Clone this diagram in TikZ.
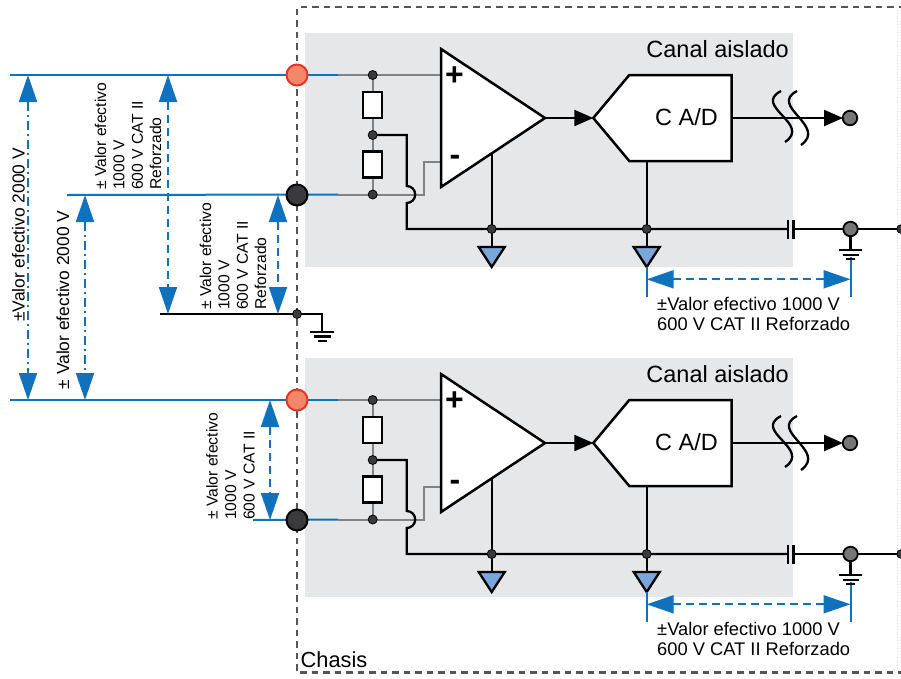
\documentclass[tikz,border=0pt]{standalone}
\usepackage{fontspec}
\setmainfont{Liberation Sans}
\usetikzlibrary{arrows.meta}
\definecolor{dimblue}{RGB}{16,114,189}
\definecolor{boxgray}{RGB}{230,231,233}
\definecolor{wiregray}{RGB}{130,130,130}
\definecolor{redfill}{RGB}{242,135,105}
\definecolor{redline}{RGB}{232,50,40}
\definecolor{termdark}{RGB}{58,58,60}
\definecolor{nodegray}{RGB}{118,118,118}
\definecolor{gndblue}{RGB}{122,166,220}
\definecolor{chassisgray}{RGB}{85,85,85}
\definecolor{faintgray}{RGB}{215,215,215}
\begin{document}
\begin{tikzpicture}[x=1pt,y=-1pt,
  wire/.style={line width=2.3pt,black},
  gwire/.style={line width=2pt,wiregray},
  bwire/.style={line width=2pt,dimblue},
  dimtip/.tip={Triangle[length=27pt,width=18pt]},
  dashdim/.style={line width=2pt,dimblue,dimtip-dimtip,dash pattern=on 8pt off 5pt},
  dashdotdim/.style={line width=2pt,dimblue,dimtip-dimtip,dash pattern=on 9pt off 4pt on 2pt off 4pt},
  chassis/.style={line width=2.5pt,chassisgray,dash pattern=on 6.5pt off 5pt},
  faint/.style={line width=0.8pt,faintgray,dotted},
  redterm/.style={circle,minimum size=21pt,inner sep=0pt,fill=redfill,draw=redline,line width=2pt},
  blkterm/.style={circle,minimum size=21pt,inner sep=0pt,fill=termdark,draw=black,line width=2pt},
  jdot/.style={circle,minimum size=9pt,inner sep=0pt,fill=termdark,draw=black,line width=0.8pt},
  graydot/.style={circle,minimum size=14.5pt,inner sep=0pt,fill=nodegray,draw=black,line width=1.8pt},
  enddot/.style={circle,minimum size=8.5pt,inner sep=0pt,fill=termdark,draw=black,line width=0.8pt},
  res/.style={rectangle,minimum width=19pt,minimum height=26pt,inner sep=0pt,fill=white,draw=black,line width=2.3pt},
  block/.style={line width=2.5pt,black,fill=white},
  gtri/.style={line width=2.3pt,black,fill=gndblue},
  sign/.style={inner sep=0pt,font=\fontsize{32}{32}\selectfont\bfseries},
  big/.style={inner sep=0pt,font=\fontsize{23.5}{28}\selectfont},
  dimlab/.style={inner sep=0pt,font=\fontsize{18.3}{20}\selectfont},
  rotlab/.style={inner sep=0pt,rotate=90,font=\fontsize{17.4}{20}\selectfont},
  rotblock/.style={inner sep=0pt,rotate=90,anchor=west,align=left,font=\fontsize{15.7}{18.4}\selectfont},
  tipsmall/.tip={Triangle[length=19pt,width=16pt]}
]
\useasboundingbox (0,0) rectangle (901,678);

% chassis outline
\draw[chassis] (905,7) -- (297,7) -- (297,672.5) -- (905,672.5);
\draw[faint] (897,10) -- (897,670);

\foreach \ch/\dy/\bb/\bx in {1/0/267/67,2/325/272/253} {
\begin{scope}[yshift=-\dy pt]
  \fill[boxgray] (305,32.5) rectangle (793,\bb);
  \node[big,anchor=base east] (canal\ch) at (789,57.5) {Canal aislado};
  % coordinates
  \coordinate (rin\ch) at (10,75);
  \coordinate (bin\ch) at (\bx,195);
  \coordinate (rbx\ch) at (338,75);
  \coordinate (kbx\ch) at (338,194.5);
  \coordinate (n1\ch) at (372.7,75);
  \coordinate (n2\ch) at (372.7,135);
  \coordinate (n3\ch) at (372.7,194.5);
  \coordinate (hopt\ch) at (406.7,186);
  \coordinate (fb\ch) at (406.7,229);
  \coordinate (g1\ch) at (491.7,229);
  \coordinate (g2\ch) at (646.7,229);
  \coordinate (capa\ch) at (788,229);
  \coordinate (capb\ch) at (793.5,229);
  \coordinate (gn\ch) at (850.5,229);
  \coordinate (rend\ch) at (901,229);
  \coordinate (ip\ch) at (441,75);
  \coordinate (im\ch) at (441,161.7);
  \coordinate (ot\ch) at (441,49);
  \coordinate (ob\ch) at (441,187);
  \coordinate (oo\ch) at (545,118);
  \coordinate (os\ch) at (491.7,153.4);
  \coordinate (adin\ch) at (593.3,118);
  \coordinate (adtl\ch) at (629.3,75);
  \coordinate (adtr\ch) at (731.7,75);
  \coordinate (adbr\ch) at (731.7,161);
  \coordinate (adbl\ch) at (629.3,161);
  \coordinate (adout\ch) at (731.7,118);
  \coordinate (adbot\ch) at (646.7,161);
  \coordinate (dtip\ch) at (843,118);
  \coordinate (dout\ch) at (850,118);
  \coordinate (da\ch) at (646.7,279.3);
  \coordinate (db\ch) at (850.5,279.3);
  % input wires
  \draw[bwire] (rin\ch) -- (rbx\ch);
  \draw[bwire] (bin\ch) -- (kbx\ch);
  \draw[gwire] (rbx\ch) -- (ip\ch);
  \draw[gwire] (kbx\ch) -- (n3\ch) -- ++(51.3,0) |- (im\ch);
  \draw[gwire] (n1\ch) -- (n3\ch);
  % feedback / ground line with hop
  \draw[wire] (n2\ch) -| (hopt\ch) arc[start angle=90,end angle=-90,radius=8.5pt] -- (fb\ch) -- (capa\ch);
  \draw[wire] (capb\ch) -- (rend\ch);
  \draw[wire] (788,219.5) -- (788,238.5);
  \draw[wire] (793.5,219.5) -- (793.5,238.5);
  \draw[wire] (os\ch) -- (g1\ch);
  \draw[wire] (adbot\ch) -- (g2\ch);
  % isolated grounds
  \draw[wire] (g1\ch) -- ++(0,18);
  \draw[gtri] (g1\ch) ++(-13,18) -- ++(26,0) -- ++(-13,20) -- cycle;
  \draw[wire] (g2\ch) -- ++(0,18);
  \draw[gtri] (g2\ch) ++(-13,18) -- ++(26,0) -- ++(-13,20) -- cycle;
  % op amp
  \draw[block] (ot\ch) -- (oo\ch) -- (ob\ch) -- cycle;
  \node[sign] (plus\ch) at (454.5,76.5) {+};
  \node[sign] (minus\ch) at (455,160.5) {-};
  \draw[wire,-tipsmall] (oo\ch) -- (adin\ch);
  % ADC
  \draw[block] (adin\ch) -- (adtl\ch) -- (adtr\ch) -- (adbr\ch) -- (adbl\ch) -- cycle;
  \node[big,anchor=base west] (adc\ch) at (655,125.5) {C A/D};
  \draw[wire,-tipsmall] (adout\ch) -- (dtip\ch);
  \draw[wire] (781,91) .. controls (752,106) and (812,124) .. (785,142);
  \draw[wire] (797,91) .. controls (768,106) and (828,126) .. (801,145);
  % blue dimension to earth
  \draw[bwire] (646.7,267) -- (646.7,297);
  \draw[bwire] (850.5,257) -- (850.5,297);
  \draw[dashdim] (da\ch) -- (db\ch);
  \node[dimlab,anchor=base west] (la\ch) at (657,310) {±Valor efectivo 1000 V};
  \node[dimlab,anchor=base west] (lb\ch) at (657,330) {600 V CAT II Reforzado};
  % earth
  \draw[wire] (gn\ch) -- ++(0,21);
  \draw[wire] (839,250) -- (862,250);
  \draw[wire] (842.5,254.7) -- (858.5,254.7);
  \draw[wire] (846,259.2) -- (855,259.2);
  % dots and components on top
  \node[res] (resa\ch) at (372.7,105) {};
  \node[res] (resb\ch) at (372.7,164.5) {};
  \node[jdot] (dn1\ch) at (n1\ch) {};
  \node[jdot] (dn2\ch) at (n2\ch) {};
  \node[jdot] (dn3\ch) at (n3\ch) {};
  \node[jdot] (dg1\ch) at (g1\ch) {};
  \node[jdot] (dg2\ch) at (g2\ch) {};
  \node[graydot] (dgn\ch) at (gn\ch) {};
  \node[graydot] (dot\ch) at (dout\ch) {};
  \node[enddot] (de\ch) at (rend\ch) {};
  \node[redterm] (rt\ch) at (297,75) {};
  \node[blkterm] (bt\ch) at (297,195) {};
\end{scope}
}

% chassis ground
\coordinate (cgl) at (160,314);
\coordinate (cg) at (297,314);
\coordinate (cgc) at (322,314);
\draw[wire] (cgl) -- (cgc) -- ++(0,17.7);
\draw[wire] (310,331.7) -- (334,331.7);
\draw[wire] (313.5,336.4) -- (330.5,336.4);
\draw[wire] (317.5,341) -- (326.5,341);
\node[jdot] (cgd) at (cg) {};

% dimension arrows
\coordinate (a1t) at (28,75);   \coordinate (a1b) at (28,400);
\coordinate (a2t) at (85,195);  \coordinate (a2b) at (85,400);
\coordinate (a3t) at (168,75);  \coordinate (a3b) at (168,314);
\coordinate (a4t) at (278,195); \coordinate (a4b) at (278,314);
\coordinate (a5t) at (270,400); \coordinate (a5b) at (270,520);
\draw[dashdotdim] (a1t) -- (a1b);
\draw[dashdotdim] (a2t) -- (a2b);
\draw[dashdim] (a3t) -- (a3b);
\draw[dashdim] (a4t) -- (a4b);
\draw[dashdim] (a5t) -- (a5b);

\node[rotlab] (l1) at (18.5,235) {±Valor efectivo 2000 V};
\node[rotlab] (l2) at (63,300) {± Valor efectivo 2000 V};
\node[rotblock] (l3) at (128,190) {± Valor efectivo\\1000 V\\600 V CAT II\\Reforzado};
\node[rotblock] (l4) at (233,310) {± Valor efectivo\\1000 V\\600 V CAT II\\Reforzado};
\node[rotblock] (l5) at (230.5,520) {± Valor efectivo\\1000 V\\600 V CAT II};

\node[inner sep=0pt,anchor=base west,font=\fontsize{21.8}{24}\selectfont] (chlab) at (300.5,667) {Chasis};
\end{tikzpicture}
\end{document}
